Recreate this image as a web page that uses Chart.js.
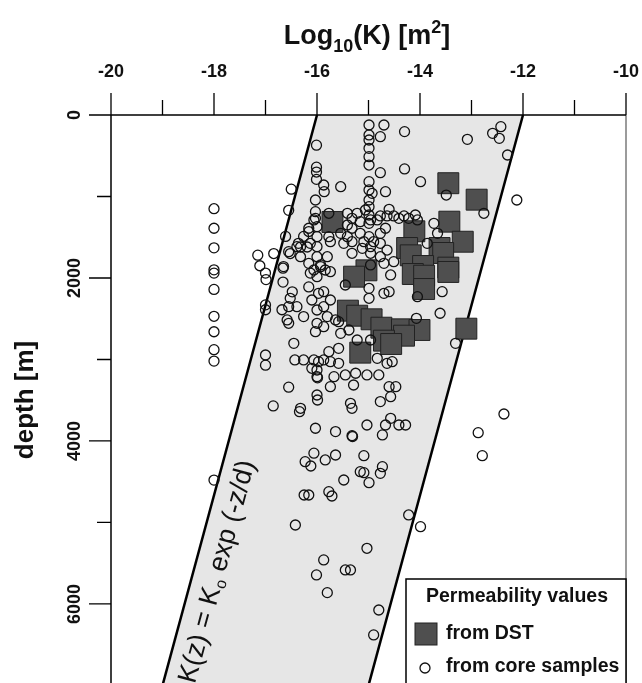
<!DOCTYPE html>
<html>
<head>
<meta charset="utf-8">
<script src="https://cdn.jsdelivr.net/npm/chart.js@4"></script>
<style>
  body { margin: 0; background: #fff; }
  #wrap { width: 642px; height: 683px; position: relative; }
</style>
</head>
<body>
<div id="wrap"><canvas id="perm-chart"></canvas></div>
<script>
// axis ticks
const xTicks = [-20, -18, -16, -14, -12, -10];
const xMinorTicks = [-19, -17, -15, -13, -11];
const yTicks = [0, 2000, 4000, 6000];
const yMinorTicks = [1000, 3000, 5000];

// K(z) = K0 exp(-z/d) envelope, log10(K) at the two end depths
const bandDepth = [0, 7000];
const bandLeft = [-16, -19];
const bandRight = [-12, -15];

// permeability from core samples: log10(K) and depth [m]
const coreLogK = [
  -18.0, -18.0, -18.0, -18.0, -18.0, -18.0, -18.0, -18.0, -18.0, -18.0, -18.0,
  -16.50, -16.55, -16.61, -16.84, -17.15, -17.11, -17.00, -16.99, -16.66, -16.66, -16.52, -16.32, -16.26, -16.16, -16.19, -16.16, -16.13, -16.16, -16.48,
  -17.00, -17.00, -16.68, -16.58, -16.55, -17.00, -17.00, -16.43, -16.26, -16.55, -16.85, -16.34, -16.03, -16.06, -16.23, -16.12,
  -16.65, -16.36, -16.55, -16.39, -16.32, -16.13, -16.52, -16.55, -16.39, -16.26, -16.45,
  -16.01, -16.01, -16.01, -16.01, -16.03, -16.03, -16.06, -16.00, -16.00, -16.00, -16.00, -16.03, -16.16, -16.00, -16.06, -16.10, -16.00, -16.00, -16.03, -16.06, -15.97, -16.00, -16.00, -15.99, -16.10, -16.00, -15.99, -16.32,
  -15.87, -15.86, -15.54, -15.77, -15.77, -15.74, -15.93, -15.80, -15.93, -15.84, -15.74, -15.97, -15.87, -15.87, -15.74, -15.80, -15.64, -15.87, -15.54, -15.58, -15.77, -15.87, -15.74, -15.58,
  -15.67, -15.45, -15.25, -15.03, -14.80, -14.64, -14.54, -15.74, -15.29, -14.60, -14.47, -14.57, -15.35, -15.32, -14.77, -15.58, -15.38, -15.22, -14.96, -14.83,
  -14.99, -14.99, -14.99, -14.99, -14.99, -14.99, -14.70, -14.77, -14.30, -13.08, -12.43, -12.59, -12.46, -12.30, -12.12, -14.77, -14.30, -13.99, -14.99, -14.99, -14.67, -14.99, -14.99, -14.99, -14.93, -14.60, -14.99,
  -15.41, -15.32, -15.22, -15.41, -15.32, -15.16, -15.06, -14.96, -14.83, -14.77, -14.64, -14.51, -14.41, -14.31, -14.22, -14.09, -14.05, -13.73, -13.66,
  -15.41, -15.32, -15.16, -15.09, -14.99, -14.90, -14.77, -14.67, -14.77, -14.64, -14.96, -15.12, -14.96, -14.77, -14.51, -14.70, -15.54, -15.48, -15.32, -13.86, -12.76, -13.49,
  -14.99, -14.99, -15.45, -14.70, -14.60, -14.57, -14.05, -13.57, -13.61, -14.07, -13.31, -14.96,
  -14.57, -14.67, -14.41, -14.28, -15.03, -14.73, -15.64, -15.32, -15.31, -15.84, -15.64, -15.09, -15.16, -15.09, -14.73, -14.77, -15.48, -14.99, -12.37, -12.87, -12.79,
  -16.25, -16.16, -16.42, -16.01, -15.77, -15.71, -14.22, -13.99, -15.03, -15.87, -15.45, -15.35, -15.80, -14.80, -14.90
];
const coreDepth = [
  1150, 1390, 1630, 1900, 1940, 2140, 2470, 2660, 2880, 3020, 4480,
  910, 1170, 1490, 1700, 1720, 1850, 1940, 2020, 1880, 2050, 1700, 1620, 1490, 1430, 1620, 1820, 1940, 2110, 2170,
  2330, 2390, 2390, 2515, 2556, 2945, 3070, 3006, 3006, 3340, 3570, 3640, 3844, 4150, 4254, 4307,
  1860, 1575, 1677, 1616, 1739, 1575, 2249, 2352, 2352, 2474, 2802,
  370, 640, 700, 790, 1043, 1186, 1288, 1370, 1493, 1616, 1739, 1268, 1390, 1984, 1902, 2270, 2393, 2556, 2659, 3006, 3027, 3129, 3211, 3225, 3108, 3436, 3497, 3599,
  859, 941, 880, 1206, 1493, 1555, 1840, 1739, 1861, 1902, 1923, 2188, 2168, 2352, 2270, 2474, 2515, 2597, 2679, 2863, 2904, 3006, 3027, 3047,
  3211, 3190, 3169, 3190, 3190, 3047, 3027, 3334, 3313, 3334, 3334, 3456, 3538, 3599, 3517, 2536, 2638, 2761, 2761, 2986,
  123, 245, 307, 409, 511, 614, 123, 266, 204, 299, 143, 225, 286, 491, 1043, 708, 662, 818, 818, 920, 941, 1043, 1125, 1227, 961, 1157, 1329,
  1206, 1268, 1206, 1350, 1390, 1309, 1166, 1288, 1288, 1239, 1239, 1239, 1268, 1239, 1268, 1227, 1288, 1329, 1452,
  1493, 1555, 1452, 1555, 1493, 1555, 1452, 1390, 1575, 1657, 1616, 1636, 1697, 1739, 1800, 1820, 1452, 1575, 1697, 1575, 1206, 982,
  2249, 2127, 2086, 2188, 2168, 1963, 2229, 2168, 2433, 2495, 2802, 1840,
  3722, 3804, 3804, 3804, 3804, 3926, 3885, 3935, 3945, 4233, 4172, 4180, 4377, 4389, 4315, 4397, 4479, 4512, 3669, 3898, 4180,
  4663, 4663, 5031, 5644, 4622, 4675, 4908, 5052, 5317, 5460, 5583, 5583, 5861, 6074, 6380
];

// permeability from drill stem tests
const dstLogK = [
  -13.45, -12.90, -15.70, -13.43, -13.17, -14.11, -14.25, -14.18, -13.62, -13.55,
  -15.04, -15.28, -13.94, -13.45, -14.14, -13.92, -13.45, -13.92,
  -15.40, -15.22, -14.94, -14.75, -14.35, -14.01, -14.31, -14.70, -14.56, -15.16, -13.10
];
const dstDepth = [
  837, 1039, 1313, 1309, 1555, 1427, 1632, 1722, 1632, 1693,
  1906, 1984, 1853, 1873, 1951, 1972, 1926, 2135,
  2401, 2463, 2507, 2610, 2630, 2638, 2708, 2769, 2810, 2916, 2622
];

const FONT = '"Liberation Sans", Arial, sans-serif';

const toPoints = (xs, ys) => xs.map((v, i) => ({ x: v, y: ys[i] }));

// envelope, axes, labels and legend drawn around the scatter
const decor = {
  id: 'decor',
  beforeDatasetsDraw(chart) {
    const { ctx, chartArea: a, scales: { x, y } } = chart;
    const px = v => x.getPixelForValue(v);
    const py = v => y.getPixelForValue(v);

    ctx.save();
    ctx.beginPath();
    ctx.rect(a.left, a.top, a.right - a.left, a.bottom - a.top);
    ctx.clip();

    ctx.beginPath();
    ctx.moveTo(px(bandLeft[0]), py(bandDepth[0]));
    ctx.lineTo(px(bandRight[0]), py(bandDepth[0]));
    ctx.lineTo(px(bandRight[1]), py(bandDepth[1]));
    ctx.lineTo(px(bandLeft[1]), py(bandDepth[1]));
    ctx.closePath();
    ctx.fillStyle = '#e6e6e6';
    ctx.fill();

    ctx.strokeStyle = '#000';
    ctx.lineWidth = 2.5;
    [bandLeft, bandRight].forEach(edge => {
      ctx.beginPath();
      ctx.moveTo(px(edge[0]), py(bandDepth[0]));
      ctx.lineTo(px(edge[1]), py(bandDepth[1]));
      ctx.stroke();
    });

    // formula written along the left edge
    const x0 = px(bandLeft[1]), y0 = py(bandDepth[1]);
    const x1 = px(bandLeft[0]), y1 = py(bandDepth[0]);
    const ang = Math.atan2(y1 - y0, x1 - x0);
    const t = (6890 - bandDepth[1]) / (bandDepth[0] - bandDepth[1]);
    ctx.translate(x0 + (x1 - x0) * t, y0 + (y1 - y0) * t);
    ctx.rotate(ang);
    ctx.fillStyle = '#111';
    ctx.textBaseline = 'alphabetic';
    ctx.textAlign = 'left';
    let cx = 0;
    const base = 31;
    ctx.font = '27px ' + FONT;
    ctx.fillText('K(z) = K', cx, base);
    cx += ctx.measureText('K(z) = K').width;
    ctx.font = '16px ' + FONT;
    ctx.fillText('o', cx + 1, base + 4);
    cx += ctx.measureText('o').width + 1;
    ctx.font = '27px ' + FONT;
    ctx.fillText(' exp (-z/d)', cx, base);
    ctx.restore();
  },
  afterDraw(chart) {
    const { ctx, chartArea: a, scales: { x, y } } = chart;
    const px = v => x.getPixelForValue(v);
    const py = v => y.getPixelForValue(v);
    ctx.save();

    // frame
    ctx.strokeStyle = '#7a7a7a';
    ctx.lineWidth = 1.5;
    ctx.beginPath();
    ctx.moveTo(a.right, a.top);
    ctx.lineTo(a.right, a.bottom);
    ctx.stroke();

    ctx.strokeStyle = '#000';
    ctx.beginPath();
    ctx.moveTo(a.left, a.top);
    ctx.lineTo(a.right, a.top);
    ctx.moveTo(a.left, a.top);
    ctx.lineTo(a.left, a.bottom);
    ctx.stroke();

    // ticks
    ctx.lineWidth = 1.3;
    ctx.beginPath();
    xTicks.forEach(v => { ctx.moveTo(px(v), a.top); ctx.lineTo(px(v), a.top - 22); });
    xMinorTicks.forEach(v => { ctx.moveTo(px(v), a.top); ctx.lineTo(px(v), a.top - 15); });
    yTicks.forEach(v => { ctx.moveTo(a.left, py(v)); ctx.lineTo(a.left - 22, py(v)); });
    yMinorTicks.forEach(v => { ctx.moveTo(a.left, py(v)); ctx.lineTo(a.left - 14, py(v)); });
    ctx.stroke();

    // tick labels
    ctx.fillStyle = '#111';
    ctx.font = 'bold 18px ' + FONT;
    ctx.textAlign = 'center';
    ctx.textBaseline = 'middle';
    xTicks.forEach(v => ctx.fillText(String(v), px(v), 72));
    yTicks.forEach(v => {
      ctx.save();
      ctx.translate(75, py(v));
      ctx.rotate(-Math.PI / 2);
      ctx.fillText(String(v), 0, 0);
      ctx.restore();
    });

    // axis titles
    ctx.save();
    ctx.translate(26, 400);
    ctx.rotate(-Math.PI / 2);
    ctx.font = 'bold 26px ' + FONT;
    ctx.fillText('depth [m]', 0, 0);
    ctx.restore();

    const parts = [
      ['Log', 27, 0], ['10', 18, 8], ['(K) [m', 27, 0], ['2', 18, -11], [']', 27, 0]
    ];
    let w = 0;
    parts.forEach(p => { ctx.font = 'bold ' + p[1] + 'px ' + FONT; w += ctx.measureText(p[0]).width; });
    let tx = 367 - w / 2;
    ctx.textAlign = 'left';
    ctx.textBaseline = 'alphabetic';
    parts.forEach(p => {
      ctx.font = 'bold ' + p[1] + 'px ' + FONT;
      ctx.fillText(p[0], tx, 44 + p[2]);
      tx += ctx.measureText(p[0]).width;
    });

    // legend
    const lx = 406, ly = 579;
    ctx.fillStyle = '#fff';
    ctx.fillRect(lx, ly, a.right - lx, a.bottom - ly + 5);
    ctx.strokeStyle = '#000';
    ctx.lineWidth = 1.5;
    ctx.strokeRect(lx, ly, a.right - lx, a.bottom - ly + 5);
    ctx.fillStyle = '#111';
    ctx.font = 'bold 19.5px ' + FONT;
    ctx.textAlign = 'center';
    ctx.textBaseline = 'middle';
    ctx.fillText('Permeability values', 517, 597);
    ctx.fillStyle = '#4f4f4f';
    ctx.fillRect(415, 623, 22, 22);
    ctx.strokeStyle = '#222';
    ctx.lineWidth = 1;
    ctx.strokeRect(415, 623, 22, 22);
    ctx.beginPath();
    ctx.arc(425, 668, 5, 0, Math.PI * 2);
    ctx.strokeStyle = '#111';
    ctx.lineWidth = 1.3;
    ctx.stroke();
    ctx.fillStyle = '#111';
    ctx.textAlign = 'left';
    ctx.fillText('from DST', 446, 634);
    ctx.fillText('from core samples', 446, 667);

    ctx.restore();
  }
};

new Chart(document.getElementById('perm-chart'), {
  type: 'scatter',
  data: {
    datasets: [
      {
        label: 'from core samples',
        data: toPoints(coreLogK, coreDepth),
        pointStyle: 'circle',
        pointRadius: 5,
        borderWidth: 1.3,
        borderColor: '#111',
        backgroundColor: 'rgba(0,0,0,0)'
      },
      {
        label: 'from DST',
        data: toPoints(dstLogK, dstDepth),
        pointStyle: 'rect',
        pointRadius: 14.8,
        borderWidth: 1,
        borderColor: '#222',
        backgroundColor: '#4f4f4f'
      }
    ]
  },
  options: {
    responsive: true,
    maintainAspectRatio: false,
    animation: false,
    layout: { autoPadding: false, padding: { left: 111, right: 16, top: 115, bottom: 0 } },
    plugins: { legend: { display: false }, tooltip: { enabled: false } },
    scales: {
      x: { type: 'linear', position: 'top', min: -20, max: -10, display: false },
      y: { type: 'linear', reverse: true, min: 0, max: 6970, display: false }
    }
  },
  plugins: [decor]
});
</script>
</body>
</html>
